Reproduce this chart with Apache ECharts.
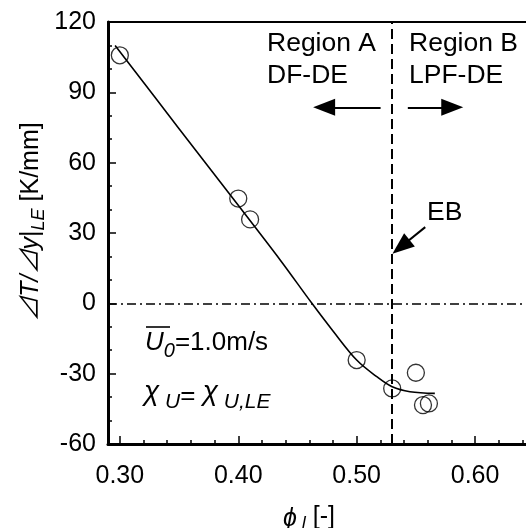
<!DOCTYPE html>
<html><head><meta charset="utf-8">
<script src="https://cdn.jsdelivr.net/npm/echarts@6/dist/echarts.min.js"></script>
<style>html,body{margin:0;padding:0;background:#fff}#c{width:526px;height:528px}</style>
</head><body><div id="c"></div>
<script>
// measured points
const measuredX = [0.300, 0.400, 0.410, 0.500, 0.530, 0.550, 0.556, 0.561];
const measuredY = [105.8, 44.7, 35.8, -24.2, -36.3, -29.6, -43.4, -42.7];
// fitted curve
const fitX = [0.296, 0.35, 0.40, 0.4354, 0.4622, 0.48, 0.50, 0.517, 0.53, 0.545, 0.566];
const fitY = [110, 74.5, 41.8, 18.5, 0, -11.8, -24.2, -31.3, -35.6, -37.7, -38.4];
// ticks
const xMajorTicks = [0.30, 0.40, 0.50, 0.60];
const xMinorTicks = [0.30, 0.32, 0.34, 0.36, 0.38, 0.40, 0.42, 0.44, 0.46, 0.48, 0.50, 0.52, 0.54, 0.56, 0.58, 0.60, 0.62, 0.64];
const yTickLabels = [-60, -30, 0, 30, 60, 90, 120];
// reference lines
const ebX = 0.53;
const zeroY = 0;

const FONT = '"Liberation Sans", Arial, "Noto Sans CJK JP", sans-serif';
const chart = echarts.init(document.getElementById('c'), null, {renderer: 'canvas'});

const xBase = {type: 'value', min: 0.29, max: 0.643, splitLine: {show: false}, gridIndex: 0};
const blk = '#000';

function tok(size, italic, pad, extra) {
  return Object.assign({fontSize: size, fontStyle: italic ? 'italic' : 'normal', fontFamily: FONT, color: blk,
    lineHeight: size, verticalAlign: 'top', padding: [pad, 0, 0, 0]}, extra || {});
}

const option = {
  animation: false,
  backgroundColor: '#fff',
  grid: {left: 108, top: 22, right: 0, bottom: 84, containLabel: false},
  xAxis: [
    Object.assign({}, xBase, {
      position: 'bottom',
      axisLine: {show: true, onZero: false, lineStyle: {color: blk, width: 3}},
      axisTick: {show: true, inside: true, length: 4, customValues: xMinorTicks, lineStyle: {color: blk, width: 1.5}},
      axisLabel: {show: true, customValues: xMajorTicks, formatter: v => v.toFixed(2), color: blk, fontSize: 25, fontFamily: FONT, margin: 20}
    }),
    Object.assign({}, xBase, {
      position: 'bottom',
      axisLine: {show: false, onZero: false},
      axisTick: {show: true, inside: true, length: 8, customValues: xMajorTicks, lineStyle: {color: blk, width: 1.5}},
      axisLabel: {show: false}
    }),
    Object.assign({}, xBase, {
      position: 'top',
      axisLine: {show: true, onZero: false, lineStyle: {color: blk, width: 2}},
      axisTick: {show: false},
      axisLabel: {show: false}
    })
  ],
  yAxis: {
    type: 'value', min: yTickLabels[0], max: yTickLabels[yTickLabels.length - 1], interval: 30,
    axisLine: {show: true, onZero: false, lineStyle: {color: blk, width: 3}},
    axisTick: {show: true, inside: true, length: 8, lineStyle: {color: blk, width: 1.5}},
    minorTick: {show: true, splitNumber: 3, length: 4, lineStyle: {color: blk, width: 1.5}},
    axisLabel: {color: blk, fontSize: 25, fontFamily: FONT, margin: 12},
    splitLine: {show: false}
  },
  series: [
    {
      type: 'line', data: fitX.map((x, i) => [x, fitY[i]]), smooth: 0.35, showSymbol: false,
      lineStyle: {color: blk, width: 1.6}, z: 3,
      markLine: {
        silent: true, symbol: 'none', label: {show: false},
        data: [
          {xAxis: ebX, lineStyle: {color: blk, width: 2, type: [10, 5]}},
          {yAxis: zeroY, lineStyle: {color: blk, width: 1.5, type: [9, 4, 2, 4]}}
        ]
      }
    },
    {
      type: 'scatter', data: measuredX.map((x, i) => [x, measuredY[i]]), symbol: 'circle', symbolSize: 17,
      itemStyle: {color: 'rgba(0,0,0,0)', borderColor: blk, borderWidth: 1.3}, z: 4
    },
    {
      type: 'line', data: [],
      markLine: {
        silent: true, label: {show: false}, symbol: ['none', 'triangle'], symbolSize: [17, 22],
        lineStyle: {color: blk, width: 2, type: 'solid'}, itemStyle: {color: blk},
        data: [
          [{coord: [0.5202, 83.6]}, {coord: [0.4725, 83.6]}],
          [{coord: [0.5432, 83.6]}, {coord: [0.5807, 83.6]}],
          [{coord: [0.5579, 32.5]}, {coord: [0.5374, 24.1]}]
        ]
      }
    }
  ],
  graphic: [
    {type: 'text', x: 267, y: 44, style: {text: 'Region A', font: '26.5px ' + FONT, fill: blk, verticalAlign: 'middle'}},
    {type: 'text', x: 267, y: 76, style: {text: 'DF-DE', font: '26.5px ' + FONT, fill: blk, verticalAlign: 'middle'}},
    {type: 'text', x: 409, y: 44, style: {text: 'Region B', font: '26.5px ' + FONT, fill: blk, verticalAlign: 'middle'}},
    {type: 'text', x: 409, y: 76, style: {text: 'LPF-DE', font: '26.5px ' + FONT, fill: blk, verticalAlign: 'middle'}},
    {type: 'text', x: 427, y: 213, style: {text: 'EB', font: '26.5px ' + FONT, fill: blk, verticalAlign: 'middle'}},
    {type: 'text', x: 145, y: 330, style: {
      text: '{u|U}{s|0}{n|=1.0m/s}', verticalAlign: 'top',
      rich: {u: tok(26, true, 0), s: tok(20, true, 11), n: tok(26, false, 0)}}},
    {type: 'line', shape: {x1: 146, y1: 327, x2: 170, y2: 327}, style: {stroke: blk, lineWidth: 1.6}},
    {type: 'text', x: 144, y: 378, style: {
      text: '{c|χ}{s| U}{e|= }{c|χ}{s| U,LE}', verticalAlign: 'top',
      rich: {c: tok(28, true, 0), s: tok(21, true, 14), e: tok(26, false, 6)}}},
    {type: 'text', x: 309, y: 503, style: {
      text: '{u|ϕ}{s| l}{n| [-]}', align: 'center', verticalAlign: 'top',
      rich: {u: tok(25, true, 4), s: tok(18, true, 12), n: tok(25, false, 2)}}},
    {type: 'text', x: 31, y: 222, rotation: Math.PI / 2, style: {
      text: '{u|⊿T/⊿y}{n||}{s|LE}{n| [K/mm]}', align: 'center', verticalAlign: 'middle',
      rich: {u: tok(25, true, 0), s: tok(18, true, 12), n: tok(25, false, 0)}}}
  ]
};
chart.setOption(option);
</script>
</body></html>
